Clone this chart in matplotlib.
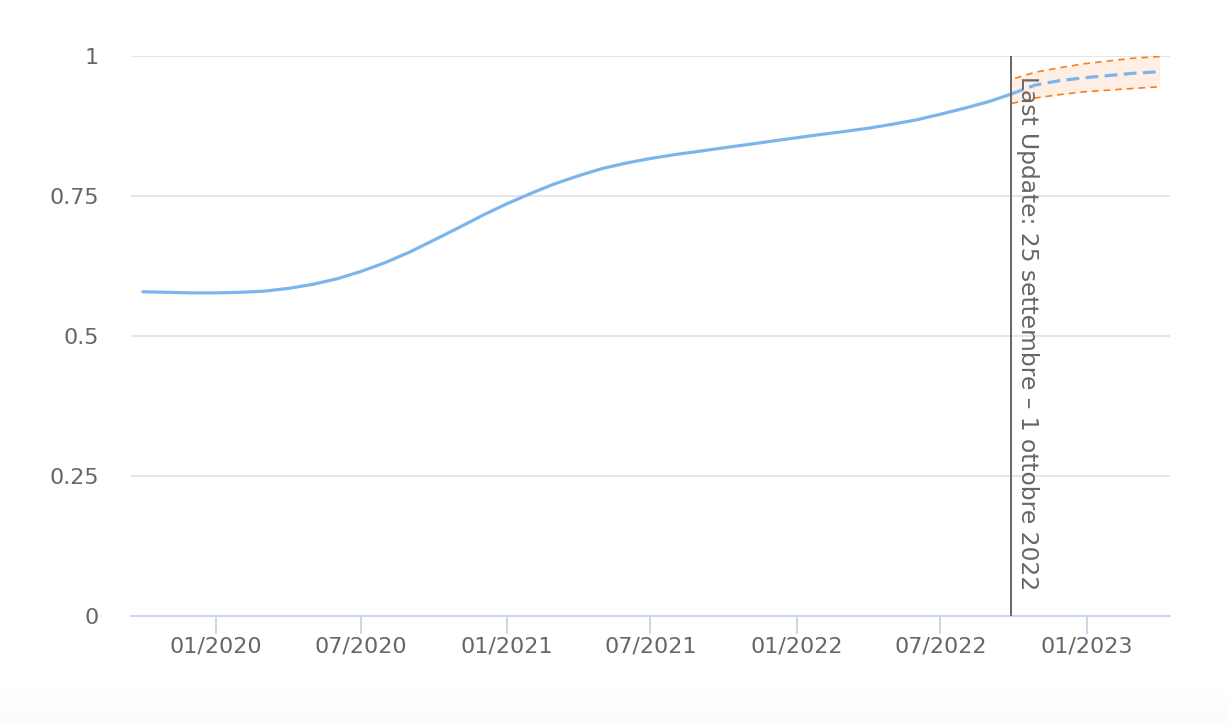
import numpy as np
import pandas as pd
import matplotlib
matplotlib.use("Agg")
import matplotlib.pyplot as plt
import matplotlib.dates as mdates

# observed series (monthly reads)
obs_dates = pd.to_datetime([
    "2019-10-01", "2019-11-01", "2019-12-01", "2020-01-01", "2020-02-01", "2020-03-01",
    "2020-04-01", "2020-05-01", "2020-06-01", "2020-07-01", "2020-08-01", "2020-09-01",
    "2020-10-01", "2020-11-01", "2020-12-01", "2021-01-01", "2021-02-01", "2021-03-01",
    "2021-04-01", "2021-05-01", "2021-06-01", "2021-07-01", "2021-08-01", "2021-09-01",
    "2021-10-01", "2021-11-01", "2021-12-01", "2022-01-01", "2022-02-01", "2022-03-01",
    "2022-04-01", "2022-05-01", "2022-06-01", "2022-07-01", "2022-08-01", "2022-09-01",
    "2022-09-28",
])
obs_values = [
    0.579, 0.578, 0.577, 0.577, 0.578, 0.580,
    0.585, 0.592, 0.602, 0.615, 0.631, 0.650,
    0.671, 0.693, 0.715, 0.736, 0.755, 0.771,
    0.786, 0.799, 0.809, 0.817, 0.824, 0.830,
    0.836, 0.842, 0.848, 0.854, 0.860, 0.865,
    0.871, 0.878, 0.886, 0.896, 0.907, 0.919,
    0.932,
]

# forecast with band
fc_dates = pd.to_datetime([
    "2022-09-28", "2022-10-28", "2022-11-28", "2022-12-28",
    "2023-01-28", "2023-02-28", "2023-04-03",
])
fc_mid = [0.932, 0.948, 0.956, 0.961, 0.965, 0.969, 0.972]
fc_low = [0.915, 0.925, 0.931, 0.936, 0.939, 0.942, 0.945]
fc_high = [0.958, 0.971, 0.979, 0.986, 0.991, 0.996, 0.999]

last_update = pd.Timestamp("2022-09-28")
last_update_label = "Last Update: 25 settembre – 1 ottobre 2022"

y_ticks = [0, 0.25, 0.5, 0.75, 1]
y_labels = ["0", "0.25", "0.5", "0.75", "1"]
x_ticks = pd.to_datetime(["2020-01-01", "2020-07-01", "2021-01-01", "2021-07-01",
                          "2022-01-01", "2022-07-01", "2023-01-01"])
x_min, x_max = pd.Timestamp("2019-09-16"), pd.Timestamp("2023-04-16")

line_col = "#7cb5ec"
band_edge = "#f77f1f"
band_fill = "#feeee3"
text_col = "#666666"

fig = plt.figure(figsize=(12.28, 7.24), dpi=100)

# faint grey fade at the very bottom
bg = fig.add_axes([0, 0, 1, 0.06], zorder=-10)
bg.imshow(np.linspace(0, 1, 50)[:, None], aspect="auto", cmap="Greys",
          vmin=0, vmax=40, extent=[0, 1, 0, 1], origin="upper")
bg.axis("off")

ax = fig.add_axes([131 / 1228, 1 - 616 / 724, (1170 - 131) / 1228, (616 - 56) / 724])
ax.patch.set_alpha(0)

ax.fill_between(fc_dates, fc_low, fc_high, color=band_fill, lw=0, zorder=1)
outline_x = list(fc_dates[::-1]) + list(fc_dates)
outline_y = fc_high[::-1] + fc_low
ax.plot(outline_x, outline_y, color=band_edge, lw=1.2, ls=(0, (4, 3)), zorder=2)

ax.plot(obs_dates, obs_values, color=line_col, lw=2.3, solid_capstyle="round",
        solid_joinstyle="round", zorder=3)
ax.plot(fc_dates, fc_mid, color=line_col, lw=2.3, ls=(0, (4, 2)), zorder=3)

ax.axvline(last_update, color=text_col, lw=1.4, zorder=4)
ax.annotate(last_update_label, xy=(last_update, 1.0), xycoords=("data", "axes fraction"),
            xytext=(5, -20), textcoords="offset pixels", rotation=270,
            ha="left", va="top", fontsize=16.8, color=text_col, zorder=5)

ax.set_xlim(x_min, x_max)
ax.set_ylim(0, 1)
ax.set_yticks(y_ticks)
ax.set_yticklabels(y_labels)
ax.set_xticks(x_ticks)
ax.xaxis.set_major_formatter(mdates.DateFormatter("%m/%Y"))

ax.grid(axis="y", color="#e6e6e6", lw=1.4)
ax.set_axisbelow(True)
for s in ["top", "right", "left"]:
    ax.spines[s].set_visible(False)
ax.spines["bottom"].set_color("#ccd6eb")
ax.spines["bottom"].set_linewidth(1.4)
ax.spines["bottom"].set_zorder(2)

ax.tick_params(axis="y", length=0, pad=23, labelsize=16, labelcolor=text_col)
ax.tick_params(axis="x", length=13, width=1.4, color="#ccd6eb", pad=2,
               labelsize=16, labelcolor=text_col)

fig.savefig("out.png", dpi=100)
